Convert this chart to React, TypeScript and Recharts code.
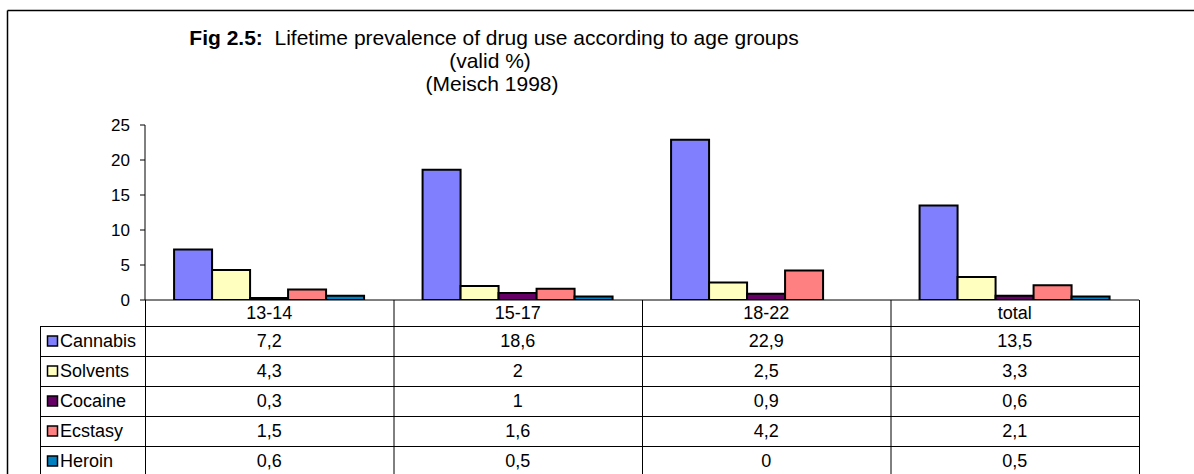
import React from 'react';
import { BarChart, Bar, XAxis, YAxis } from 'recharts';

const categories = ['13-14', '15-17', '18-22', 'total'];
const seriesNames = ['Cannabis', 'Solvents', 'Cocaine', 'Ecstasy', 'Heroin'];
const cannabis = [7.2, 18.6, 22.9, 13.5];
const solvents = [4.3, 2, 2.5, 3.3];
const cocaine = [0.3, 1, 0.9, 0.6];
const ecstasy = [1.5, 1.6, 4.2, 2.1];
const heroin = [0.6, 0.5, 0, 0.5];
const yTicks = [0, 5, 10, 15, 20, 25];
const seriesColors = ['#8080FF', '#FFFFC0', '#660066', '#FF8080', '#0080C0'];

const seriesValues = [cannabis, solvents, cocaine, ecstasy, heroin];

const data = categories.map((c, i) => {
  const row: Record<string, string | number> = { category: c };
  seriesNames.forEach((s, k) => {
    row[s] = seriesValues[k][i];
  });
  return row;
});

const W = 1194;
const H = 474;
const PL = 145;
const PR = 1139;
const PT = 125;
const PB = 300;
const X_AXIS_H = 26;
const Y_AXIS_W = 40;
const ROW_TOP = 326;
const ROW_H = 30;
const TABLE_LEFT = 40;
const FONT = '"Liberation Sans", Arial, sans-serif';
const TABLE_FS = 18;
const TICK_FS = 17;
const TITLE_FS = 21;

const fmt = (v: number) => String(v).replace('.', ',');

const CategoryTick = (props: any) => {
  const { x, payload } = props;
  return (
    <text
      x={x}
      y={PB + 13}
      textAnchor="middle"
      dominantBaseline="central"
      fontSize={TABLE_FS}
      fontFamily={FONT}
      fill="#000"
    >
      {payload.value}
    </text>
  );
};

const Overlay = () => {
  const colW = (PR - PL) / categories.length;
  const tableBottom = ROW_TOP + ROW_H * seriesNames.length;
  return (
    <svg
      width={W}
      height={H}
      style={{ position: 'absolute', left: 0, top: 0, pointerEvents: 'none' }}
    >
      {/* outer frame */}
      <line x1={7.5} y1={10.5} x2={W} y2={10.5} stroke="#000" strokeWidth={1.5} />
      <line x1={7.5} y1={10.5} x2={7.5} y2={H} stroke="#000" strokeWidth={1.5} />

      {/* title */}
      <text
        x={494}
        y={45}
        textAnchor="middle"
        fontSize={TITLE_FS}
        fontFamily={FONT}
        fill="#000"
        style={{ whiteSpace: 'pre' }}
      >
        <tspan fontWeight="bold">Fig 2.5:</tspan>
        <tspan>{'  Lifetime prevalence of drug use according to age groups'}</tspan>
      </text>
      <text x={490} y={68} textAnchor="middle" fontSize={TITLE_FS} fontFamily={FONT} fill="#000">
        (valid %)
      </text>
      <text x={492} y={91} textAnchor="middle" fontSize={TITLE_FS} fontFamily={FONT} fill="#000">
        (Meisch 1998)
      </text>

      {/* table grid */}
      {categories.map((c, i) => (
        <line
          key={'v' + c}
          x1={PL + colW * (i + 1) + 0.5}
          y1={PB}
          x2={PL + colW * (i + 1) + 0.5}
          y2={tableBottom}
          stroke="#000"
          strokeWidth={1}
        />
      ))}
      <line x1={PL + 0.5} y1={PB} x2={PL + 0.5} y2={tableBottom} stroke="#000" strokeWidth={1} />
      <line x1={TABLE_LEFT + 0.5} y1={ROW_TOP} x2={TABLE_LEFT + 0.5} y2={tableBottom} stroke="#000" strokeWidth={1} />
      {seriesNames.map((s, k) => (
        <line
          key={'h' + s}
          x1={TABLE_LEFT}
          y1={ROW_TOP + ROW_H * k + 0.5}
          x2={PR + 1}
          y2={ROW_TOP + ROW_H * k + 0.5}
          stroke="#000"
          strokeWidth={1}
        />
      ))}

      {/* legend keys and values */}
      {seriesNames.map((s, k) => {
        const mid = ROW_TOP + ROW_H * k + ROW_H / 2;
        return (
          <g key={'r' + s}>
            <rect
              x={47.5}
              y={mid - 5}
              width={10}
              height={10}
              fill={seriesColors[k]}
              stroke="#000"
              strokeWidth={1.5}
            />
            <text
              x={60}
              y={mid}
              dominantBaseline="central"
              fontSize={TABLE_FS}
              fontFamily={FONT}
              fill="#000"
            >
              {s}
            </text>
            {seriesValues[k].map((v, i) => (
              <text
                key={'t' + i}
                x={PL + colW * (i + 0.5)}
                y={mid}
                textAnchor="middle"
                dominantBaseline="central"
                fontSize={TABLE_FS}
                fontFamily={FONT}
                fill="#000"
              >
                {fmt(v)}
              </text>
            ))}
          </g>
        );
      })}
    </svg>
  );
};

export default function App() {
  return (
    <div
      style={{
        position: 'absolute',
        left: 0,
        top: 0,
        width: W,
        height: H,
        background: '#fff',
        overflow: 'hidden',
      }}
    >
      <BarChart
        width={W}
        height={H}
        data={data}
        margin={{ top: PT, right: W - PR, bottom: H - PB - X_AXIS_H, left: PL - Y_AXIS_W }}
        barCategoryGap="11.7%"
        barGap={0}
      >
        <XAxis
          dataKey="category"
          height={X_AXIS_H}
          axisLine={{ stroke: '#000', strokeWidth: 1 }}
          tickLine={false}
          tick={<CategoryTick />}
          interval={0}
        />
        <YAxis
          width={Y_AXIS_W}
          domain={[0, 25]}
          ticks={yTicks}
          interval={0}
          allowDataOverflow
          axisLine={{ stroke: '#000', strokeWidth: 1 }}
          tickLine={{ stroke: '#000', strokeWidth: 1 }}
          tickSize={5}
          tickMargin={10}
          tick={{ fontSize: TICK_FS, fontFamily: FONT, fill: '#000' }}
        />
        {seriesNames.map((s, k) => (
          <Bar
            key={s}
            dataKey={s}
            fill={seriesColors[k]}
            stroke="#000"
            strokeWidth={2}
            isAnimationActive={false}
          />
        ))}
      </BarChart>
      <Overlay />
    </div>
  );
}
